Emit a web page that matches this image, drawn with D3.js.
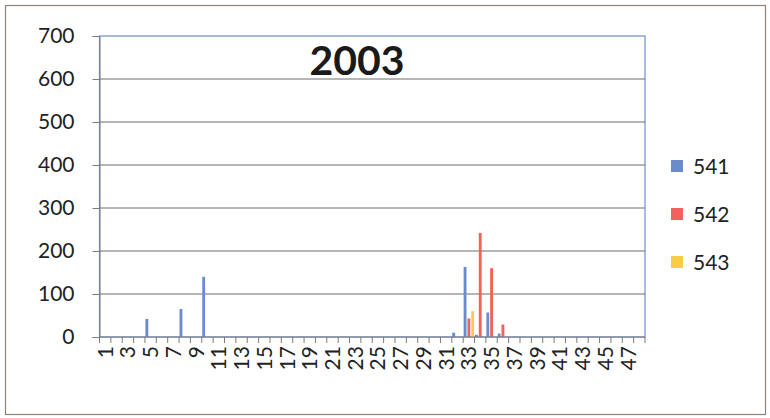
<!DOCTYPE html>
<html>
<head>
<meta charset="utf-8">
<script src="https://cdn.jsdelivr.net/npm/d3@7"></script>
<style>
  html, body { margin: 0; padding: 0; background: #fff; }
  svg { display: block; font-family: Lato, "Open Sans", sans-serif; }
</style>
</head>
<body>
<svg id="chart" width="770" height="418"></svg>
<script>
// categories 1..48 (only odd ones are labelled)
const categories = d3.range(1, 49);
const xLabels = categories.filter(c => c % 2 === 1);
const yTicks = [0, 100, 200, 300, 400, 500, 600, 700];
const seriesNames = ["541", "542", "543"];
const seriesColors = ["#6a8ccb", "#f0625a", "#f8cd45"];

// values, keyed by category
const values541 = { 5: 42, 8: 65, 10: 140, 32: 10, 33: 163, 34: 5, 35: 57, 36: 8 };
const values542 = { 33: 43, 34: 242, 35: 160, 36: 29 };
const values543 = { 33: 60 };

const seriesValues = [values541, values542, values543];

const margin = { top: 36, right: 125, bottom: 81, left: 99.5 };
const width = 770, height = 418;

const $svg = d3.select("#chart");

// outer chart border
$svg.append("rect")
    .attr("x", 5.5).attr("y", 5.5)
    .attr("width", 760).attr("height", 409)
    .attr("fill", "#fff")
    .attr("stroke", "#8b837c")
    .attr("stroke-width", 1.2);

const x0 = d3.scaleBand()
    .domain(categories)
    .range([margin.left, width - margin.right])
    .padding(0);

const x1 = d3.scaleBand()
    .domain(seriesNames)
    .range([0, x0.bandwidth()])
    .paddingInner(0.25)
    .paddingOuter(0.125);

const y = d3.scaleLinear()
    .domain([0, 700])
    .range([height - margin.bottom, margin.top]);

// plot area border (blue)
$svg.append("rect")
    .attr("x", margin.left).attr("y", y(700))
    .attr("width", x0.range()[1] - margin.left)
    .attr("height", y(0) - y(700))
    .attr("fill", "none")
    .attr("stroke", "#6f8fc6")
    .attr("stroke-width", 1.2);

// horizontal grid
$svg.append("g")
  .selectAll("line")
  .data(yTicks.filter(t => t > 0 && t < 700))
  .join("line")
    .attr("x1", margin.left).attr("x2", x0.range()[1])
    .attr("y1", d => y(d)).attr("y2", d => y(d))
    .attr("stroke", "#6e6a6a")
    .attr("stroke-width", 1);

// bars
const barData = [];
seriesValues.forEach((vals, i) => {
    categories.forEach(c => {
        if (vals[c] !== undefined) barData.push({ cat: c, s: seriesNames[i], v: vals[c], color: seriesColors[i] });
    });
});

$svg.append("g")
  .selectAll("rect")
  .data(barData)
  .join("rect")
    .attr("x", d => x0(d.cat) + x1(d.s))
    .attr("width", x1.bandwidth())
    .attr("y", d => y(d.v))
    .attr("height", d => y(0) - y(d.v))
    .attr("fill", d => d.color);

// y axis
const yAxis = d3.axisLeft(y).tickValues(yTicks).tickSize(7).tickPadding(18);
const $yAxis = $svg.append("g")
    .attr("transform", `translate(${margin.left},0)`)
    .call(yAxis);
$yAxis.select(".domain").attr("stroke", "#7a7a80");
$yAxis.selectAll(".tick line").attr("stroke", "#7a7a80");
$yAxis.selectAll("text")
    .attr("font-size", 21)
    .attr("font-family", "Lato, 'Open Sans', sans-serif")
    .attr("fill", "#222");

// x axis line and tick marks at band edges
const $xAxis = $svg.append("g");
$xAxis.append("line")
    .attr("x1", margin.left).attr("x2", x0.range()[1])
    .attr("y1", y(0)).attr("y2", y(0))
    .attr("stroke", "#7a7a80");
$xAxis.selectAll("line.tk")
  .data(categories.concat([null]))
  .join("line")
    .attr("class", "tk")
    .attr("x1", d => d === null ? x0.range()[1] : x0(d))
    .attr("x2", d => d === null ? x0.range()[1] : x0(d))
    .attr("y1", y(0)).attr("y2", y(0) + 6)
    .attr("stroke", "#7a7a80");

// x labels (rotated)
const xAxis = d3.axisBottom(x0).tickValues(xLabels).tickSize(0);
const $xLab = $svg.append("g")
    .attr("transform", `translate(0,${y(0)})`)
    .call(xAxis);
$xLab.select(".domain").remove();
$xLab.selectAll("text")
    .attr("font-size", 21)
    .attr("font-family", "Lato, 'Open Sans', sans-serif")
    .attr("fill", "#222")
    .attr("text-anchor", "end")
    .attr("transform", "rotate(-90)")
    .attr("x", -9)
    .attr("y", 0)
    .attr("dy", "0.36em");

// title
$svg.append("text")
    .attr("x", 357).attr("y", 75)
    .attr("text-anchor", "middle")
    .attr("font-size", 41)
    .attr("font-weight", "bold")
    .attr("fill", "#1a1a1a")
    .text("2003");

// legend
const legend = $svg.append("g")
  .selectAll("g")
  .data(seriesNames)
  .join("g")
    .attr("transform", (d, i) => `translate(671,${166 + i * 48})`);
legend.append("rect")
    .attr("x", 0).attr("y", -6)
    .attr("width", 12).attr("height", 12)
    .attr("fill", (d, i) => seriesColors[i]);
legend.append("text")
    .attr("x", 22).attr("y", 0)
    .attr("dy", "0.36em")
    .attr("font-size", 21)
    .attr("fill", "#222")
    .text(d => d);
</script>
</body>
</html>
